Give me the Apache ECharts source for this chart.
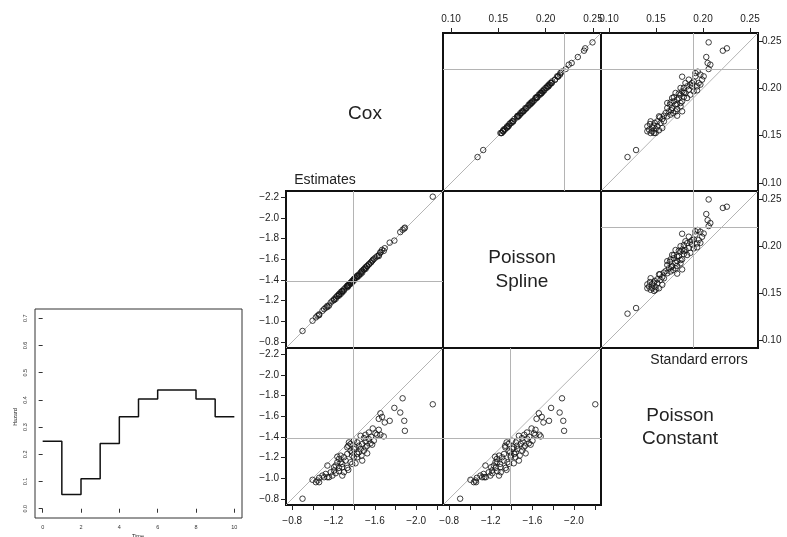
<!DOCTYPE html>
<html>
<head>
<meta charset="utf-8">
<script src="https://cdn.jsdelivr.net/npm/echarts@6/dist/echarts.min.js"></script>
<style>
  html, body { margin: 0; padding: 0; background: #fff; }
  #chart { width: 787px; height: 537px; }
</style>
</head>
<body>
<div id="chart"></div>
<script>
// point estimates from the three models (one value per simulated data set)
const coxEst = [
  -0.900, -2.161, -1.869, -1.789, -1.846, -1.885, -1.891, -1.744, -1.696, -1.654,
  -1.670, -1.638, -1.580, -1.638, -1.654, -1.686, -1.606, -1.542, -1.510, -1.462,
  -1.590, -1.558, -1.526, -1.510, -1.574, -1.478, -1.430, -1.397, -1.349, -1.333,
  -1.365, -1.413, -1.462, -1.494, -1.526, -1.471, -1.430, -1.381, -1.333, -1.301,
  -1.269, -1.253, -1.237, -1.269, -1.317, -1.365, -1.413, -1.478, -1.430, -1.221,
  -1.253, -1.285, -1.333, -1.301, -1.253, -1.221, -1.189, -1.205, -1.173, -1.141,
  -1.125, -1.157, -1.109, -1.093, -1.061, -1.045, -1.061, -0.997, -1.029, -1.285,
  -1.343, -1.381, -1.397, -1.446, -1.494, -1.542, -1.510, -1.365, -1.343, -1.237,
  -1.285, -1.205, -1.141, -1.397, -1.446, -1.564, -1.622, -1.381
];
const splineEst = [
  -0.905, -2.205, -1.885, -1.780, -1.862, -1.897, -1.905, -1.760, -1.706, -1.662,
  -1.690, -1.640, -1.592, -1.630, -1.668, -1.680, -1.615, -1.548, -1.522, -1.470,
  -1.601, -1.566, -1.530, -1.505, -1.583, -1.489, -1.441, -1.405, -1.352, -1.340,
  -1.372, -1.420, -1.455, -1.503, -1.535, -1.478, -1.425, -1.390, -1.327, -1.309,
  -1.280, -1.258, -1.245, -1.262, -1.325, -1.360, -1.421, -1.470, -1.437, -1.229,
  -1.247, -1.293, -1.342, -1.296, -1.262, -1.215, -1.196, -1.212, -1.180, -1.148,
  -1.131, -1.151, -1.117, -1.100, -1.066, -1.052, -1.058, -1.004, -1.036, -1.279,
  -1.351, -1.376, -1.408, -1.452, -1.500, -1.551, -1.516, -1.371, -1.338, -1.241,
  -1.290, -1.203, -1.137, -1.392, -1.440, -1.570, -1.628, -1.386
];
const constEst = [
  -0.801, -1.715, -1.773, -1.680, -1.635, -1.555, -1.458, -1.555, -1.539, -1.628,
  -1.593, -1.574, -1.481, -1.468, -1.420, -1.404, -1.433, -1.442, -1.420, -1.410,
  -1.362, -1.337, -1.314, -1.356, -1.324, -1.330, -1.346, -1.362, -1.346, -1.298,
  -1.266, -1.298, -1.282, -1.266, -1.240, -1.218, -1.234, -1.218, -1.234, -1.202,
  -1.218, -1.186, -1.154, -1.154, -1.170, -1.154, -1.144, -1.170, -1.202, -1.122,
  -1.099, -1.106, -1.099, -1.057, -1.067, -1.048, -1.025, -1.074, -1.057, -1.122,
  -1.041, -1.009, -1.009, -1.025, -1.003, -0.977, -0.961, -0.984, -0.961, -1.025,
  -1.080, -1.138, -1.282, -1.314, -1.388, -1.378, -1.298, -1.330, -1.314, -1.208,
  -1.138, -1.106, -1.009, -1.202, -1.250, -1.401, -1.420, -1.250
];

// standard errors from the three models
const coxSE = [
  0.1274, 0.1348, 0.2486, 0.2398, 0.2423, 0.2331, 0.2268, 0.2250, 0.2204, 0.2123,
  0.2176, 0.2145, 0.2127, 0.2092, 0.2056, 0.2074, 0.2039, 0.2021, 0.2021, 0.2004,
  0.1986, 0.1979, 0.1951, 0.1968, 0.1933, 0.1908, 0.1898, 0.1951, 0.1880, 0.1863,
  0.1863, 0.1852, 0.1827, 0.1810, 0.1782, 0.1792, 0.1757, 0.1739, 0.1711, 0.1722,
  0.1704, 0.1711, 0.1676, 0.1694, 0.1634, 0.1651, 0.1605, 0.1651, 0.1598, 0.1563,
  0.1546, 0.1570, 0.1581, 0.1528, 0.1528, 0.1546, 0.1933, 0.1968, 0.2056, 0.2092,
  0.2039, 0.2056, 0.1845, 0.1792, 0.1739, 0.1704, 0.1827, 0.1908, 0.1944, 0.1898,
  0.1951, 0.1835, 0.1768, 0.1651, 0.1598, 0.1556, 0.1634, 0.1588, 0.2127, 0.2021,
  0.2162, 0.2004, 0.1898, 0.1845, 0.1757, 0.1757, 0.1528, 0.1623
];
const splineSE = [
  0.1280, 0.1340, 0.2495, 0.2405, 0.2418, 0.2340, 0.2275, 0.2244, 0.2212, 0.2130,
  0.2170, 0.2152, 0.2121, 0.2098, 0.2063, 0.2069, 0.2045, 0.2015, 0.2030, 0.2010,
  0.1980, 0.1986, 0.1958, 0.1962, 0.1940, 0.1914, 0.1892, 0.1957, 0.1886, 0.1858,
  0.1870, 0.1857, 0.1821, 0.1816, 0.1789, 0.1786, 0.1763, 0.1745, 0.1706, 0.1729,
  0.1710, 0.1717, 0.1670, 0.1700, 0.1640, 0.1645, 0.1611, 0.1657, 0.1592, 0.1569,
  0.1552, 0.1564, 0.1587, 0.1534, 0.1522, 0.1551, 0.1927, 0.1974, 0.2050, 0.2099,
  0.2033, 0.2062, 0.1851, 0.1798, 0.1733, 0.1698, 0.1833, 0.1902, 0.1950, 0.1904,
  0.1945, 0.1841, 0.1774, 0.1656, 0.1604, 0.1550, 0.1628, 0.1594, 0.2133, 0.2027,
  0.2156, 0.1998, 0.1905, 0.1839, 0.1762, 0.1751, 0.1535, 0.1617
];
const constSE = [
  0.1197, 0.1288, 0.2060, 0.2211, 0.2254, 0.2035, 0.2049, 0.2078, 0.2060, 0.1778,
  0.1944, 0.1972, 0.1919, 0.1990, 0.1954, 0.1901, 0.1866, 0.1884, 0.1831, 0.1796,
  0.1849, 0.1937, 0.1813, 0.1778, 0.1761, 0.1796, 0.1743, 0.1708, 0.1725, 0.1778,
  0.1690, 0.1655, 0.1708, 0.1761, 0.1725, 0.1672, 0.1637, 0.1683, 0.1725, 0.1655,
  0.1620, 0.1584, 0.1567, 0.1542, 0.1549, 0.1514, 0.1479, 0.1443, 0.1408, 0.1426,
  0.1461, 0.1496, 0.1567, 0.1443, 0.1479, 0.1408, 0.1866, 0.1901, 0.1813, 0.1849,
  0.1972, 0.1884, 0.1761, 0.1620, 0.1602, 0.1532, 0.1648, 0.1690, 0.1743, 0.1831,
  0.1796, 0.1725, 0.1662, 0.1584, 0.1514, 0.1532, 0.1486, 0.1461, 0.2007, 0.1937,
  0.1919, 0.1761, 0.1672, 0.1620, 0.1708, 0.1778, 0.1496, 0.1436
];

// reference values (grey lines)
const trueEst = -1.39;
const refSE = { cox: 0.218, spline: 0.219, constant: 0.187 };

// tick values
const estTicks = [-0.8, -1.0, -1.2, -1.4, -1.6, -1.8, -2.0, -2.2];
const estBottomLabels = [-0.8, -1.2, -1.6, -2.0];
const seTicks = [0.10, 0.15, 0.20, 0.25];

// small hazard plot
const hazardTime = [0, 1, 2, 3, 4, 5, 6, 7, 8, 9, 10];
const hazardRate = [0.248, 0.052, 0.110, 0.240, 0.338, 0.403, 0.436, 0.436, 0.403, 0.338, 0.338];
const hazardXTicks = [0, 2, 4, 6, 8, 10];
const hazardYTicks = [0.0, 0.1, 0.2, 0.3, 0.4, 0.5, 0.6, 0.7];

const EST_MIN = -2.26, EST_MAX = -0.74;
const SE_MIN = 0.0915, SE_MAX = 0.2585;

const txt = "#222";
const font = "Liberation Sans, Arial, sans-serif";

const chart = echarts.init(document.getElementById("chart"));

function fmtEst(v) {
  return (v < 0 ? "\u2212" : "") + Math.abs(v).toFixed(1);
}

function panelGrid(left, top, width, height) {
  return {
    left, top, width, height,
    show: true,
    borderColor: "#111",
    borderWidth: 2,
    backgroundColor: "transparent",
  };
}

// axis builder: side = where ticks/labels go, or null for hidden
function axis(kind, gridIndex, side, est) {
  const base = {
    type: "value",
    gridIndex,
    min: est ? EST_MIN : SE_MIN,
    max: est ? EST_MAX : SE_MAX,
    inverse: !!est,
    splitLine: { show: false },
    axisLine: { show: false },
  };
  if (!side) {
    base.axisTick = { show: false };
    base.axisLabel = { show: false };
    return base;
  }
  base.position = side;
  const ticks = est ? estTicks : seTicks;
  let labels = ticks;
  if (est && side === "bottom") labels = estBottomLabels;
  let margin = 5;
  if (side === "left") margin = 7;
  if (side === "bottom") margin = 11;
  if (side === "top") margin = 9;
  if (side === "right") margin = 4;
  base.axisTick = {
    show: true,
    inside: false,
    length: 5,
    customValues: ticks,
    lineStyle: { color: "#222", width: 1 },
  };
  base.axisLabel = {
    show: true,
    customValues: labels,
    margin,
    color: txt,
    fontSize: 10,
    fontFamily: font,
    formatter: est ? fmtEst : (v) => v.toFixed(2),
  };
  return base;
}

function pairs(xs, ys) {
  return xs.map((v, i) => [v, ys[i]]);
}

function refLines(idx, refX, refY, lo, hi) {
  return {
    type: "line",
    xAxisIndex: idx,
    yAxisIndex: idx,
    data: [[lo, lo], [hi, hi]],
    showSymbol: false,
    silent: true,
    z: 1,
    lineStyle: { color: "#b4b4b4", width: 1 },
    markLine: {
      silent: true,
      symbol: "none",
      label: { show: false },
      lineStyle: { color: "#b4b4b4", width: 1, type: "solid" },
      data: [{ xAxis: refX }, { yAxis: refY }],
    },
  };
}

function points(idx, xs, ys) {
  return {
    type: "scatter",
    xAxisIndex: idx,
    yAxisIndex: idx,
    data: pairs(xs, ys),
    symbol: "circle",
    symbolSize: 5.5,
    z: 3,
    itemStyle: { color: "rgba(0,0,0,0)", borderColor: "#111", borderWidth: 1 },
  };
}

const grids = [
  panelGrid(443, 33, 158, 158), // 0: Spline SE (x) vs Cox SE (y)
  panelGrid(601, 33, 157, 158), // 1: Constant SE vs Cox SE
  panelGrid(601, 191, 157, 157), // 2: Constant SE vs Spline SE
  panelGrid(286, 191, 157, 157), // 3: Cox est vs Spline est
  panelGrid(286, 348, 157, 157), // 4: Cox est vs Constant est
  panelGrid(443, 348, 158, 157), // 5: Spline est vs Constant est
  { left: 35, top: 309, width: 207, height: 209, show: true, borderColor: "#333", borderWidth: 1 },
];

const xAxes = [
  axis("x", 0, "top", false),
  axis("x", 1, "top", false),
  axis("x", 2, null, false),
  axis("x", 3, null, true),
  axis("x", 4, "bottom", true),
  axis("x", 5, "bottom", true),
  {
    type: "value", gridIndex: 6, min: -0.4, max: 10.4,
    splitLine: { show: false }, axisLine: { show: false },
    axisTick: { show: true, length: 4, customValues: hazardXTicks, lineStyle: { color: "#333" } },
    axisLabel: { customValues: hazardXTicks, fontSize: 5.5, color: "#333", margin: 6, fontFamily: font },
  },
];
const yAxes = [
  axis("y", 0, null, false),
  axis("y", 1, "right", false),
  axis("y", 2, "right", false),
  axis("y", 3, "left", true),
  axis("y", 4, "left", true),
  axis("y", 5, null, true),
  {
    type: "value", gridIndex: 6, min: -0.034, max: 0.734,
    splitLine: { show: false }, axisLine: { show: false },
    axisTick: { show: true, length: 4, customValues: hazardYTicks, lineStyle: { color: "#333" } },
    axisLabel: {
      customValues: hazardYTicks, fontSize: 5.5, color: "#333", margin: 7, rotate: 90,
      fontFamily: font, formatter: (v) => v.toFixed(1),
    },
  },
];

const series = [
  refLines(0, refSE.spline, refSE.cox, SE_MIN, SE_MAX),
  points(0, splineSE, coxSE),
  refLines(1, refSE.constant, refSE.cox, SE_MIN, SE_MAX),
  points(1, constSE, coxSE),
  refLines(2, refSE.constant, refSE.spline, SE_MIN, SE_MAX),
  points(2, constSE, splineSE),
  refLines(3, trueEst, trueEst, EST_MAX, EST_MIN),
  points(3, coxEst, splineEst),
  refLines(4, trueEst, trueEst, EST_MAX, EST_MIN),
  points(4, coxEst, constEst),
  refLines(5, trueEst, trueEst, EST_MAX, EST_MIN),
  points(5, splineEst, constEst),
  {
    type: "line",
    xAxisIndex: 6,
    yAxisIndex: 6,
    step: "end",
    showSymbol: false,
    data: pairs(hazardTime, hazardRate),
    lineStyle: { color: "#111", width: 1.5 },
  },
];

function label(x, y, text, size, extra) {
  return Object.assign({
    type: "text",
    x, y,
    style: {
      text, fill: txt, font: size + "px " + font,
      textAlign: "center", textVerticalAlign: "middle",
    },
  }, extra || {});
}

const graphic = [
  label(365, 114, "Cox", 19),
  label(325, 180, "Estimates", 14),
  label(522, 258, "Poisson", 19),
  label(522, 282, "Spline", 19),
  label(699, 360, "Standard errors", 14),
  label(680, 416, "Poisson", 19),
  label(680, 439, "Constant", 19),
  label(15, 417, "Hazard", 5.5, { rotation: Math.PI / 2 }),
  label(138, 536, "Time", 5.5),
];

chart.setOption({
  animation: false,
  grid: grids,
  xAxis: xAxes,
  yAxis: yAxes,
  series,
  graphic,
});
</script>
</body>
</html>
